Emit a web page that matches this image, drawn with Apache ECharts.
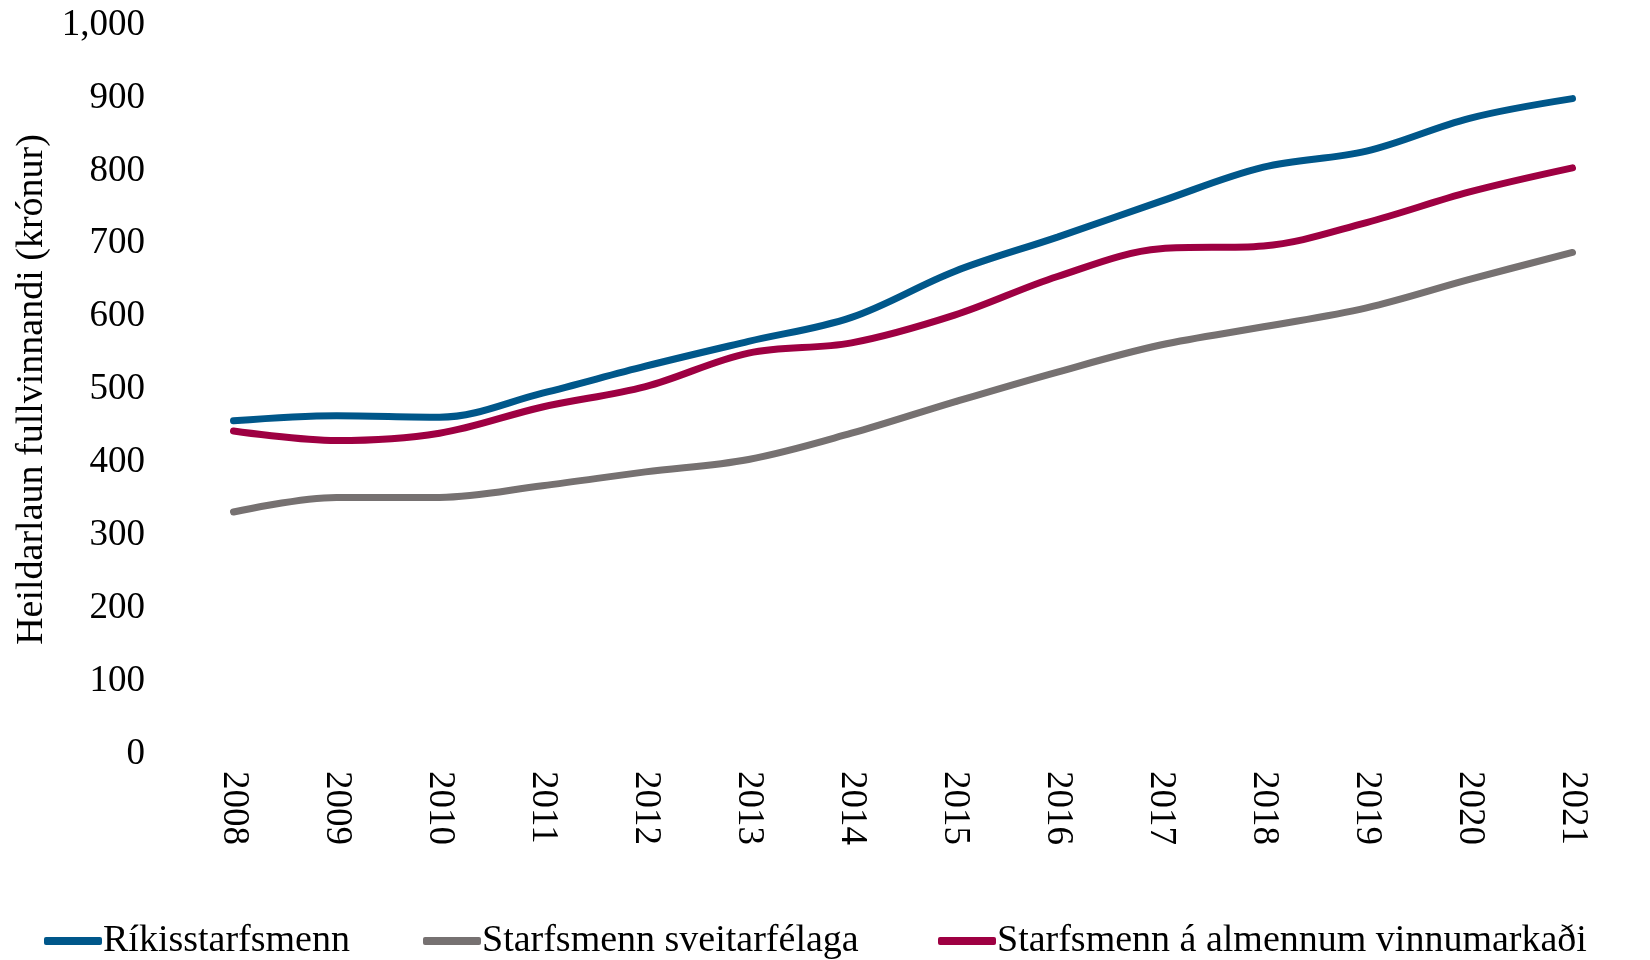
<!DOCTYPE html>
<html>
<head>
<meta charset="utf-8">
<title>Heildarlaun fullvinnandi</title>
<script src="https://cdn.jsdelivr.net/npm/echarts@6/dist/echarts.min.js"></script>
<style>
  html, body { margin: 0; padding: 0; background: #fff; }
  #chart { width: 1650px; height: 960px; }
</style>
</head>
<body>
<div id="chart"></div>
<script>
const years = ['2008', '2009', '2010', '2011', '2012', '2013', '2014',
  '2015', '2016', '2017', '2018', '2019', '2020', '2021']

const rikid = [457, 464, 462, 495, 532, 566, 599, 662, 709, 758, 805, 827, 872, 899]
const sveitarfelog = [332, 352, 352, 368, 387, 404, 440, 483, 524, 561, 586, 612, 651, 688]
const almennur = [443, 430, 440, 476, 504, 550, 564, 602, 655, 693, 697, 729, 771, 804]

const seriesNames = ['Ríkisstarfsmenn', 'Starfsmenn sveitarfélaga', 'Starfsmenn á almennum vinnumarkaði']
const Colors = ['#00578A', '#767171', '#9E0042']
const legendLeft = [39, 418, 933]

const font = "'Liberation Serif', 'DejaVu Serif', serif"

const chart = echarts.init(document.getElementById('chart'))

function lineSeries(name, data, color) {
  return {
    name: name,
    type: 'line',
    data: data,
    smooth: 0.35,
    symbol: 'none',
    lineStyle: { width: 7, color: color, cap: 'round' },
    itemStyle: { color: color }
  }
}

// one legend per item so each sits where it does in the original
const legends = seriesNames.map((name, i) => ({
  data: [name],
  left: legendLeft[i],
  top: 917,
  itemWidth: 58,
  itemHeight: 8,
  icon: 'roundRect',
  textStyle: {
    fontFamily: font,
    fontSize: 38,
    color: '#000',
    padding: [0, 0, 0, -4]
  }
}))

chart.setOption({
  animation: false,
  textStyle: { fontFamily: font },
  grid: {
    left: 182,
    right: 26,
    top: 25,
    bottom: 206
  },
  legend: legends,
  xAxis: {
    type: 'category',
    data: years,
    boundaryGap: true,
    axisLine: { show: false },
    axisTick: { show: false },
    axisLabel: {
      rotate: -90,
      margin: 17,
      color: '#000',
      fontFamily: font,
      fontSize: 37
    }
  },
  yAxis: {
    type: 'value',
    min: 0,
    max: 1000,
    interval: 100,
    name: 'Heildarlaun fullvinnandi (krónur)',
    nameLocation: 'middle',
    nameGap: 131,
    nameTextStyle: {
      color: '#000',
      fontFamily: font,
      fontSize: 38
    },
    axisLine: { show: false },
    axisTick: { show: false },
    splitLine: { show: false },
    axisLabel: {
      margin: 37,
      color: '#000',
      fontFamily: font,
      fontSize: 37,
      formatter: function (v) {
        return v.toLocaleString('en-US')
      }
    }
  },
  series: [
    lineSeries(seriesNames[0], rikid, Colors[0]),
    lineSeries(seriesNames[1], sveitarfelog, Colors[1]),
    lineSeries(seriesNames[2], almennur, Colors[2])
  ]
})
</script>
</body>
</html>
